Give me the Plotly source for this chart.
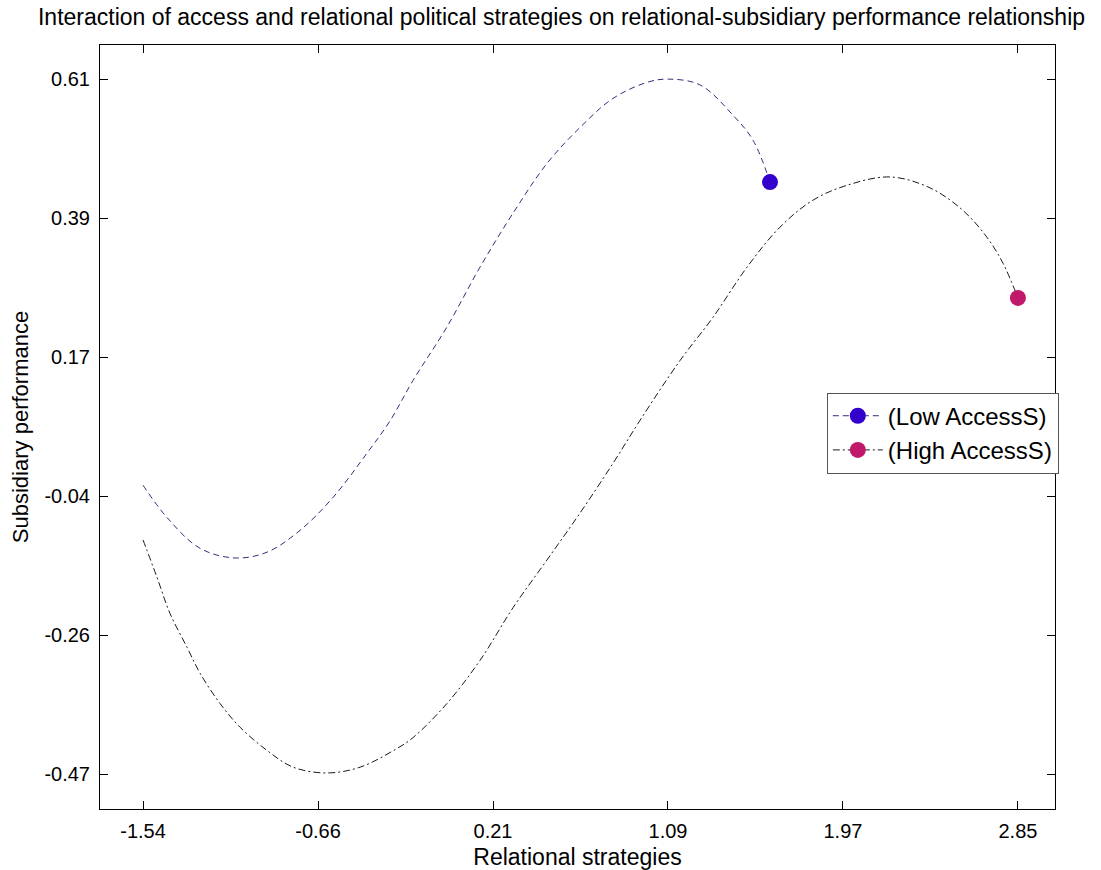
import plotly.graph_objects as go

# Low AccessS series
low_x = [-1.54, -1.42, -1.254, -1.078, -0.918, -0.752, -0.587, -0.416, -0.301, -0.185,
         -0.015, 0.151, 0.317, 0.487, 0.653, 0.818, 0.989, 1.094, 1.255, 1.42, 1.521, 1.606]
low_y = [-0.021, -0.071, -0.119, -0.134, -0.125, -0.091, -0.040, 0.029, 0.079, 0.142,
         0.225, 0.318, 0.402, 0.479, 0.535, 0.580, 0.605, 0.610, 0.601, 0.554, 0.515, 0.450]

# High AccessS series
high_x = [-1.54, -1.47, -1.405, -1.319, -1.254, -1.154, -1.053, -0.918, -0.787, -0.617,
          -0.451, -0.266, -0.185, -0.015, 0.151, 0.317, 0.487, 0.653, 0.818, 0.954,
          1.155, 1.32, 1.491, 1.656, 1.822, 1.992, 2.208, 2.409, 2.574, 2.695, 2.775, 2.85]
high_y = [-0.106, -0.164, -0.220, -0.273, -0.313, -0.360, -0.397, -0.433, -0.459, -0.468,
          -0.459, -0.430, -0.413, -0.360, -0.293, -0.211, -0.137, -0.064, 0.013, 0.080,
          0.173, 0.240, 0.318, 0.380, 0.422, 0.445, 0.458, 0.441, 0.406, 0.364, 0.324, 0.270]

x_ticks = [-1.54, -0.662, 0.216, 1.094, 1.972, 2.85]
x_tick_labels = ["-1.54", "-0.66", "0.21", "1.09", "1.97", "2.85"]
y_ticks = [-0.47, -0.254, -0.038, 0.178, 0.394, 0.61]
y_tick_labels = ["-0.47", "-0.26", "-0.04", "0.17", "0.39", "0.61"]

series_names = ["(Low AccessS)", "(High AccessS)"]
low_line_color = "#30307a"
high_line_color = "#1a1a1a"
low_marker_color = "#3300cc"
high_marker_color = "#c0186a"

FONT = "Liberation Sans, Arial, sans-serif"
LOW_DASH = "6px,4px"
HIGH_DASH = "7px,3px,2px,3px"

fig = go.Figure()

fig.add_trace(go.Scatter(
    x=low_x, y=low_y, mode="lines", line_shape="spline",
    line=dict(color=low_line_color, width=1, dash=LOW_DASH),
    showlegend=False, hoverinfo="skip"))
fig.add_trace(go.Scatter(
    x=high_x, y=high_y, mode="lines", line_shape="spline",
    line=dict(color=high_line_color, width=1, dash=HIGH_DASH),
    showlegend=False, hoverinfo="skip"))

fig.add_trace(go.Scatter(
    x=[low_x[-1]], y=[low_y[-1]], mode="lines+markers", name=series_names[0],
    line=dict(color=low_line_color, width=1, dash=LOW_DASH),
    marker=dict(color=low_marker_color, size=16)))
fig.add_trace(go.Scatter(
    x=[high_x[-1]], y=[high_y[-1]], mode="lines+markers", name=series_names[1],
    line=dict(color=high_line_color, width=1, dash=HIGH_DASH),
    marker=dict(color=high_marker_color, size=16)))

axis_common = dict(
    showline=True, linecolor="black", linewidth=1, mirror="allticks",
    ticks="inside", ticklen=8, tickcolor="black", tickwidth=1,
    showgrid=False, zeroline=False, automargin=False,
    tickfont=dict(family=FONT, size=20, color="black"),
)

fig.update_xaxes(
    range=[-1.756, 3.036], tickvals=x_ticks, ticktext=x_tick_labels,
    ticklabelstandoff=4,
    title=dict(text="Relational strategies", font=dict(family=FONT, size=23, color="black"), standoff=10),
    **axis_common)
fig.update_yaxes(
    range=[-0.524, 0.663], tickvals=y_ticks, ticktext=y_tick_labels,
    ticklabelstandoff=5,
    title=dict(text="Subsidiary performance", font=dict(family=FONT, size=22, color="black"), standoff=9),
    **axis_common)

fig.update_layout(
    width=1101, height=870,
    margin=dict(l=100, r=46, t=45, b=61),
    paper_bgcolor="white", plot_bgcolor="white",
    title=dict(text="Interaction of access and relational political strategies on relational-subsidiary performance relationship",
               font=dict(family=FONT, size=23, color="black"),
               x=0.510, xanchor="center", xref="container", y=0.990, yanchor="top", yref="container",
               automargin=False),
    legend=dict(x=1.004, xanchor="right", y=0.545, yanchor="top",
                bgcolor="white", bordercolor="#555555", borderwidth=1,
                font=dict(family=FONT, size=24, color="black"),
                tracegroupgap=0, itemwidth=50),
    showlegend=True,
)

fig.write_html("out.html", config={"displayModeBar": False},
               post_script="document.body.style.margin='0';")
